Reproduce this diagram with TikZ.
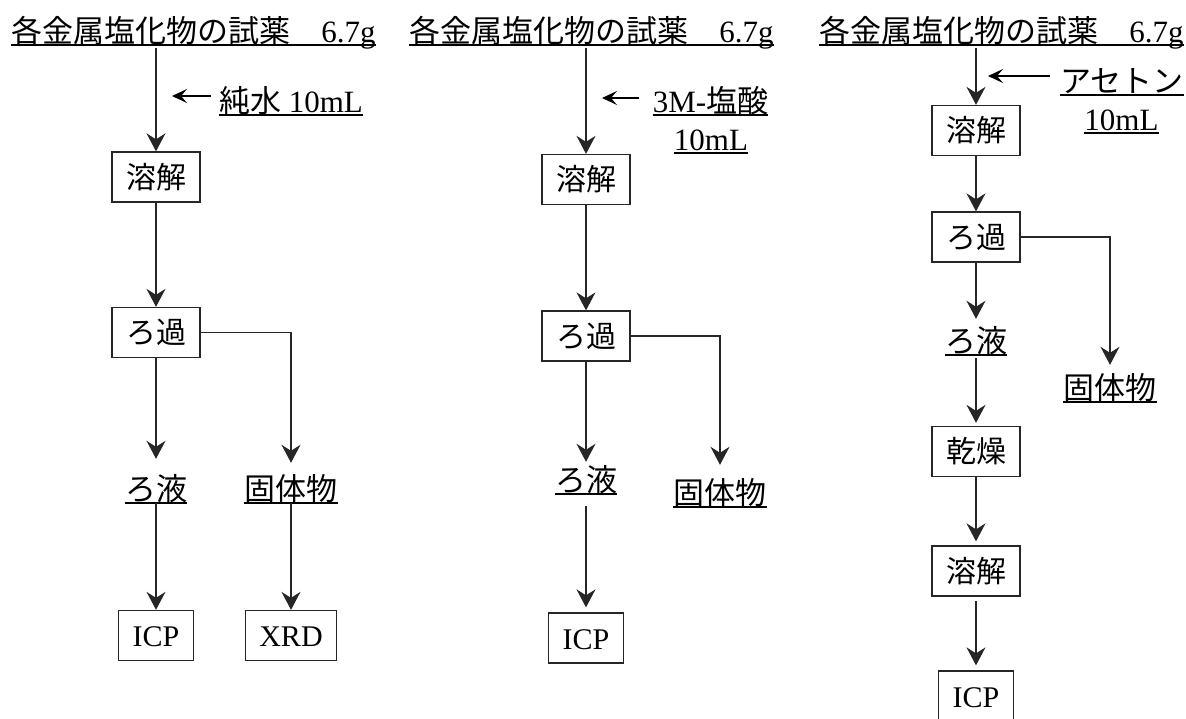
\documentclass[tikz,border=0pt]{standalone}
\usepackage{fontspec}
\setmainfont{Liberation Serif}
\newfontfamily\jp{Noto Sans CJK JP}
\usetikzlibrary{arrows.meta}
\newcommand\lfs{\fontsize{31}{36}\selectfont}
\newcommand\bfs{\fontsize{30}{36}\selectfont}
\begin{document}
\begin{tikzpicture}[x=1pt,y=-1pt,
  line/.style={line width=1.3pt, draw=black!85},
  arr/.style={line, -{Stealth[length=18pt,width=19pt,inset=6pt]}},
  sarr/.style={line width=1.2pt, -{Stealth[length=15pt,width=14pt,inset=6pt]}},
  box/.style={draw=black!85, line width=1.3pt, inner xsep=14pt, inner ysep=0pt,
    minimum height=50pt, text height=22pt, text depth=0pt, font=\bfs},
  lbl/.style={inner sep=0pt, font=\lfs, text height=25pt, text depth=3pt},
  ul/.style={line width=1.6pt},
  ulbl/.style={lbl, append after command={(\tikzlastnode.south west) edge[ul] (\tikzlastnode.south east)}},
]
\useasboundingbox (0,0) rectangle (1186,718);

% ---------- column 1 ----------
\node[ulbl, anchor=base] (t1) at (193.5,42) {{\jp 各金属塩化物の試薬　}6.7g};
\node[ulbl, anchor=base] (w1) at (291,112) {{\jp 純水} 10mL};
\coordinate (w1s) at (211,96);
\coordinate (w1e) at (172,96);
\node[box] (d1) at (156,177) {\jp 溶解};
\node[box] (f1) at (156,332.5) {\jp ろ過};
\node[ulbl, anchor=base] (r1) at (156,500) {\jp ろ液};
\node[ulbl, anchor=base] (k1) at (291,500) {\jp 固体物};
\node[box] (i1) at (156,635.5) {ICP};
\node[box] (x1) at (291,635.5) {XRD};

\draw[arr, shorten <=3pt] (t1.south -| d1.north) -- (d1.north);
\draw[sarr] (w1s) -- (w1e);
\draw[arr] (d1) -- (f1);
\draw[arr, shorten >=16pt] (f1) -- (r1.north);
\draw[arr, shorten >=12pt] (f1) -| (k1.north);
\draw[arr] (r1) -- (i1);
\draw[arr] (k1) -- (x1);

% ---------- column 2 ----------
\node[ulbl, anchor=base] (t2) at (591.5,42) {{\jp 各金属塩化物の試薬　}6.7g};
\node[ulbl, anchor=base] (w2) at (710.5,112) {3M-{\jp 塩酸}};
\node[ulbl, anchor=base] (v2) at (711,150) {10mL};
\coordinate (w2s) at (639,98);
\coordinate (w2e) at (602,98);
\node[box] (d2) at (586,179.5) {\jp 溶解};
\node[box] (f2) at (586,336) {\jp ろ過};
\node[ulbl, anchor=base] (r2) at (586,491) {\jp ろ液};
\node[ulbl, anchor=base] (k2) at (720,504) {\jp 固体物};
\node[box] (i2) at (586,638) {ICP};

\draw[arr, shorten <=3pt] (t2.south -| d2.north) -- (d2.north);
\draw[sarr] (w2s) -- (w2e);
\draw[arr] (d2) -- (f2);
\draw[arr, shorten >=4pt] (f2) -- (r2.north);
\draw[arr, shorten >=14pt] (f2) -| (k2.north);
\draw[arr, shorten <=12pt, shorten >=5pt] (r2) -- (i2);

% ---------- column 3 ----------
\node[ulbl, anchor=base] (t3) at (1001.5,42) {{\jp 各金属塩化物の試薬　}6.7g};
\node[ulbl, anchor=base] (w3) at (1122,92) {\jp アセトン};
\node[ulbl, anchor=base] (v3) at (1121.5,130) {10mL};
\coordinate (w3s) at (1050,76);
\coordinate (w3e) at (988,76);
\node[box] (d3) at (976,130.5) {\jp 溶解};
\node[box] (f3) at (976,237) {\jp ろ過};
\node[ulbl, anchor=base] (r3) at (976,352) {\jp ろ液};
\node[ulbl, anchor=base] (k3) at (1110,399) {\jp 固体物};
\node[box] (g3) at (976,451.5) {\jp 乾燥};
\node[box] (e3) at (976,571) {\jp 溶解};
\node[box] (i3) at (976,696) {ICP};

\draw[arr, shorten <=3pt] (t3.south -| d3.north) -- (d3.north);
\draw[sarr] (w3s) -- (w3e);
\draw[arr] (d3) -- (f3);
\draw[arr, shorten >=8pt] (f3) -- (r3.north);
\draw[arr, shorten >=9pt] (f3) -| (k3.north);
\draw[arr, shorten <=3pt, shorten >=3pt] (r3) -- (g3);
\draw[arr, shorten >=4pt] (g3) -- (e3);
\draw[arr, shorten <=4pt, shorten >=5pt] (e3) -- (i3);
\end{tikzpicture}
\end{document}
